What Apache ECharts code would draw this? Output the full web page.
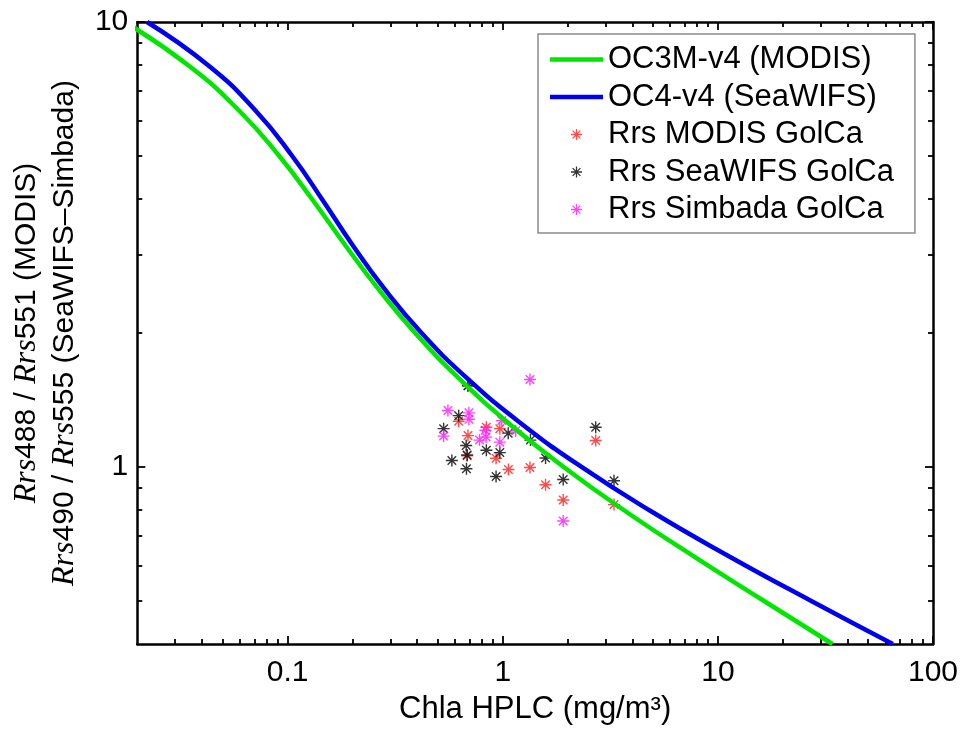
<!DOCTYPE html>
<html>
<head>
<meta charset="utf-8">
<script src="https://cdn.jsdelivr.net/npm/echarts@6/dist/echarts.min.js"></script>
<style>
html,body{margin:0;padding:0;background:#fff;}
#chart{width:965px;height:730px;}
</style>
</head>
<body>
<div id="chart"></div>
<script>
// ---- Data ----
// Band-ratio model curves: chlorophyll (mg/m3) vs reflectance ratio
const ratioSteps = [10, 7.943, 6.310, 5.012, 3.981, 3.162, 2.512, 1.995, 1.585, 1.259, 1, 0.794, 0.631, 0.501, 0.400];
const oc3mChl = [0.0175, 0.0351, 0.0597, 0.0910, 0.1307, 0.1842, 0.2638, 0.3932, 0.6221, 1.054, 1.919, 3.734, 7.662, 16.25, 34.1];
const oc4Chl  = [0.0222, 0.0434, 0.0712, 0.1046, 0.1453, 0.1996, 0.2820, 0.4213, 0.680, 1.200, 2.323, 4.912, 11.19, 26.91, 65.0];

// In-situ points
const modisChl   = [0.689, 0.624, 0.689, 0.839, 0.969, 0.931, 0.683, 1.063, 1.338, 1.581, 1.910, 2.704, 3.290];
const modisRatio = [1.522, 1.267, 1.176, 1.228, 1.219, 1.046, 1.060, 0.987, 0.997, 0.912, 0.843, 1.147, 0.823];

const seawifsChl   = [0.689, 0.624, 0.531, 1.060, 1.345, 0.676, 0.683, 0.839, 0.969, 0.580, 0.678, 1.581, 0.931, 1.910, 2.704, 3.290];
const seawifsRatio = [1.522, 1.304, 1.219, 1.191, 1.149, 1.117, 1.064, 1.090, 1.077, 1.034, 0.991, 1.047, 0.952, 0.937, 1.228, 0.931];

const simbadaChl   = [1.338, 0.556, 0.696, 0.696, 0.531, 0.830, 0.989, 1.149, 0.837, 0.780, 0.969, 1.910];
const simbadaRatio = [1.572, 1.339, 1.323, 1.280, 1.173, 1.209, 1.271, 1.206, 1.167, 1.149, 1.137, 0.756];

// Tick values
const xMajorTicks = [0.1, 1, 10, 100];
const xMinorTicks = [0.03, 0.04, 0.05, 0.06, 0.07, 0.08, 0.09,
                     0.2, 0.3, 0.4, 0.5, 0.6, 0.7, 0.8, 0.9,
                     2, 3, 4, 5, 6, 7, 8, 9,
                     20, 30, 40, 50, 60, 70, 80, 90];
const yMajorTicks = [1, 10];
const yMinorTicks = [0.5, 0.6, 0.7, 0.8, 0.9, 2, 3, 4, 5, 6, 7, 8, 9];

const seriesNames = ['OC3M-v4 (MODIS)', 'OC4-v4 (SeaWIFS)', 'Rrs MODIS GolCa', 'Rrs SeaWIFS GolCa', 'Rrs Simbada GolCa'];

// ---- Build ----
const pair = (xs, ys) => xs.map((x, i) => [x, ys[i]]);
const FONT = 'Liberation Sans, Arial, Helvetica, sans-serif';
const STAR = 'path://M-0.7,-6 L0.7,-6 L0.7,6 L-0.7,6 Z M-6,-0.7 L6,-0.7 L6,0.7 L-6,0.7 Z M-3.76,-4.75 L4.75,3.76 L3.76,4.75 L-4.75,-3.76 Z M-4.75,3.76 L3.76,-4.75 L4.75,-3.76 L-3.76,4.75 Z';
const LINE_ICON = 'path://M0,0 L53,0 L53,4.5 L0,4.5 Z';

const X_MIN = 0.02, X_MAX = 100, Y_MIN = 0.4, Y_MAX = 10;
const axisLineStyle = {color: '#000', width: 2.5};

function xAx(pos, major, withLabel) {
  const a = {
    type: 'log', logBase: 10, min: X_MIN, max: X_MAX, position: pos, gridIndex: 0,
    axisLine: {show: major, onZero: false, lineStyle: axisLineStyle},
    axisTick: {show: true, inside: true, length: major ? 8 : 5,
               customValues: major ? xMajorTicks : xMinorTicks,
               lineStyle: {color: '#000', width: 1.8}},
    axisLabel: {show: false},
    splitLine: {show: false}, minorTick: {show: false}
  };
  if (withLabel) {
    a.axisLabel = {show: true, customValues: xMajorTicks, color: '#000', fontSize: 30,
                   fontFamily: FONT, margin: 14,
                   formatter: v => String(+v.toPrecision(6))};
    a.name = 'Chla HPLC (mg/m\u00B3)';
    a.nameLocation = 'middle';
    a.nameGap = 50;
    a.nameTextStyle = {color: '#000', fontSize: 31, fontFamily: FONT};
  }
  return a;
}
function yAx(pos, major, withLabel) {
  const a = {
    type: 'log', logBase: 10, min: Y_MIN, max: Y_MAX, position: pos, gridIndex: 0,
    axisLine: {show: major, onZero: false, lineStyle: axisLineStyle},
    axisTick: {show: true, inside: true, length: major ? 8 : 5,
               customValues: major ? yMajorTicks : yMinorTicks,
               lineStyle: {color: '#000', width: 1.8}},
    axisLabel: {show: false},
    splitLine: {show: false}, minorTick: {show: false}
  };
  if (withLabel) {
    a.axisLabel = {show: true, customValues: yMajorTicks, color: '#000', fontSize: 30,
                   fontFamily: FONT, margin: 9,
                   formatter: v => String(+v.toPrecision(6))};
    a.name = '{i|Rrs}488 / {i|Rrs}551 (MODIS)\n{i|Rrs}490 / {i|Rrs}555 (SeaWIFS\u2013Simbada)';
    a.nameLocation = 'middle';
    a.nameRotate = 90;
    a.nameGap = 51;
    a.nameTextStyle = {color: '#000', fontSize: 30, fontFamily: FONT, lineHeight: 38,
      rich: {i: {fontFamily: 'Liberation Serif, Times New Roman, serif', fontStyle: 'italic',
                 fontSize: 32, lineHeight: 38, color: '#000'}}};
  }
  return a;
}

const option = {
  backgroundColor: '#fff',
  animation: false,
  grid: {left: 133, right: 32, top: 22, bottom: 79, containLabel: false},
  legend: {
    orient: 'vertical', left: 538, top: 34,
    padding: [10, 21, 8, 12],
    itemWidth: 53, itemHeight: 11, itemGap: 6.5,
    backgroundColor: '#fff', borderColor: '#8c8c8c', borderWidth: 1.5, borderRadius: 0,
    symbolKeepAspect: true,
    textStyle: {color: '#000', fontSize: 31, fontFamily: FONT},
    data: [
      {name: seriesNames[0], icon: LINE_ICON},
      {name: seriesNames[1], icon: LINE_ICON},
      {name: seriesNames[2]},
      {name: seriesNames[3]},
      {name: seriesNames[4]}
    ]
  },
  xAxis: [xAx('bottom', true, true), xAx('top', true, false), xAx('bottom', false, false), xAx('top', false, false)],
  yAxis: [yAx('left', true, true), yAx('right', true, false), yAx('left', false, false), yAx('right', false, false)],
  series: [
    {name: seriesNames[0], type: 'line', xAxisIndex: 0, yAxisIndex: 0, symbol: 'none', smooth: true,
     lineStyle: {color: '#00e600', width: 4.5}, itemStyle: {color: '#00e600'}, clip: true,
     data: pair(oc3mChl, ratioSteps)},
    {name: seriesNames[1], type: 'line', xAxisIndex: 0, yAxisIndex: 0, symbol: 'none', smooth: true,
     lineStyle: {color: '#0000f0', width: 4.5}, itemStyle: {color: '#0000f0'}, clip: true,
     data: pair(oc4Chl, ratioSteps)},
    {name: seriesNames[2], type: 'scatter', xAxisIndex: 0, yAxisIndex: 0, symbol: STAR, symbolSize: 12,
     itemStyle: {color: '#ff2a2a', opacity: 0.85}, data: pair(modisChl, modisRatio)},
    {name: seriesNames[3], type: 'scatter', xAxisIndex: 0, yAxisIndex: 0, symbol: STAR, symbolSize: 12,
     itemStyle: {color: '#111111', opacity: 0.85}, data: pair(seawifsChl, seawifsRatio)},
    {name: seriesNames[4], type: 'scatter', xAxisIndex: 0, yAxisIndex: 0, symbol: STAR, symbolSize: 12,
     itemStyle: {color: '#ff22ff', opacity: 0.85}, data: pair(simbadaChl, simbadaRatio)}
  ]
};

const chart = echarts.init(document.getElementById('chart'), null, {renderer: 'canvas'});
chart.setOption(option);
</script>
</body>
</html>
